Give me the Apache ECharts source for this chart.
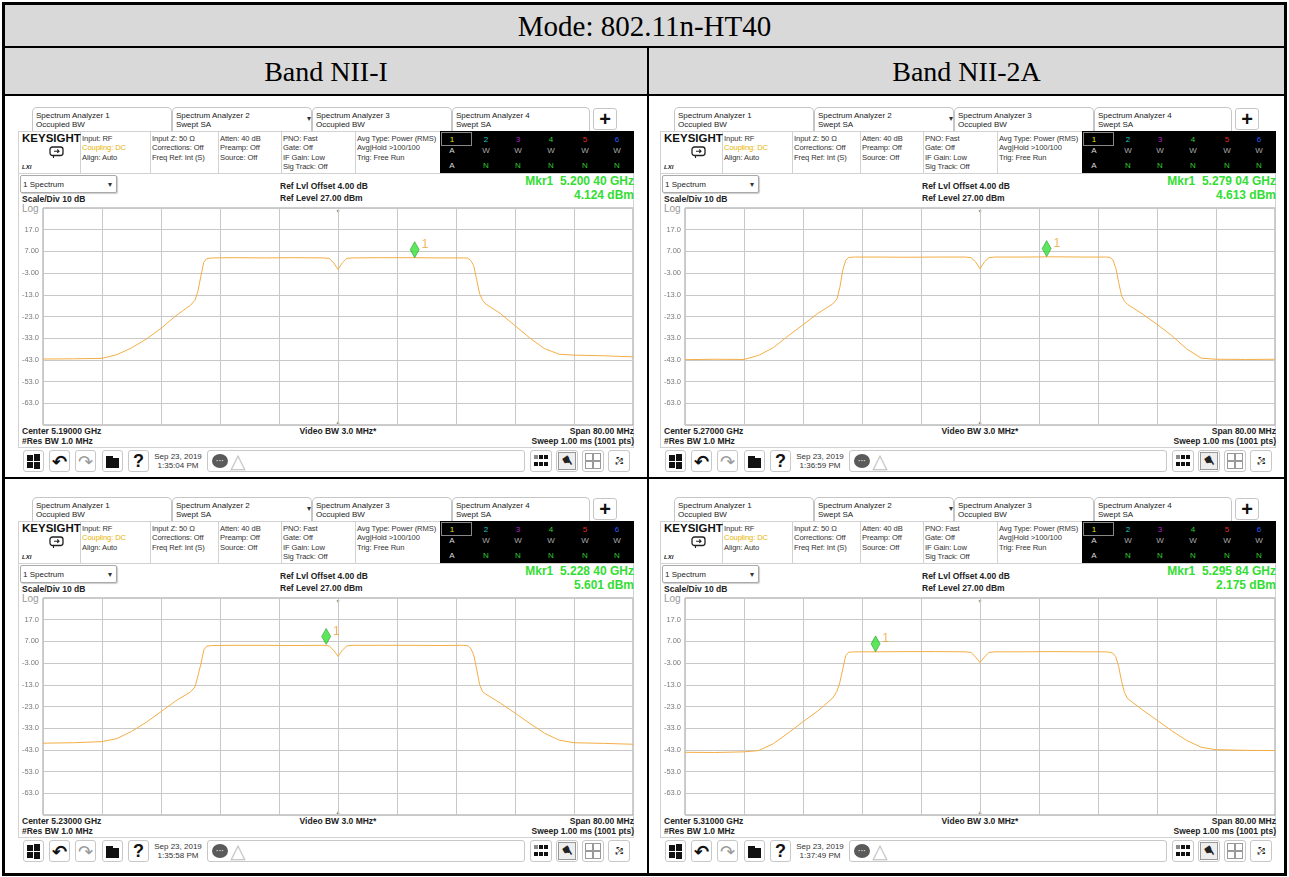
<!DOCTYPE html>
<html><head><meta charset="utf-8">
<script src="https://cdn.jsdelivr.net/npm/echarts@6/dist/echarts.min.js"></script>
<style>
html,body{margin:0;padding:0;background:#fff;}
#root{position:relative;width:1289px;height:877px;overflow:hidden;background:#fff;}
#chrome{position:absolute;left:0;top:0;width:1289px;height:877px;z-index:1;}
#chart{position:absolute;left:0;top:0;width:1289px;height:877px;z-index:2;}
.p{position:absolute;white-space:nowrap;font-family:'Liberation Sans',Arial,'DejaVu Sans',sans-serif;color:#222;}
.b{position:absolute;box-sizing:border-box;}
.hdr{position:absolute;white-space:nowrap;font-family:'Liberation Serif','Times New Roman',serif;font-size:28px;color:#000;text-align:center;}
</style></head>
<body><div id="root"><div id="chrome"></div><div id="chart"></div></div>
<script>
// ---------------- data ----------------
const freqOffsetMHz = [-40,-36,-32,-30,-28,-26,-24,-22,-20,-19.4,-19,-18.6,-18.2,-17.8,-17,-14,-10,-6,-2,-1.2,-0.6,0,0.6,1.2,2,6,10,14,17,17.6,18,18.4,18.8,19.2,19.6,20,22,24,26,28,30,32,36,40];
const levelsNII1_A = [-42.6,-42.5,-42.3,-40.6,-37.5,-33.4,-28.5,-22.7,-17.8,-15.5,-11.5,-4.5,2.0,3.7,4.0,4.1,4.0,4.1,4.0,3.8,1.8,-1.3,1.8,3.8,4.0,4.1,4.1,4.0,4.0,3.9,2.8,0.5,-6.0,-12.5,-15.5,-17.2,-21.6,-27.2,-32.9,-37.8,-40.4,-40.8,-41.1,-41.6];
const levelsNII2A_A = [-42.9,-42.7,-42.8,-40.9,-37.3,-31.9,-26.8,-21.6,-17.3,-15.0,-9.5,-1.5,3.0,4.2,4.4,4.4,4.3,4.4,4.4,4.1,2.2,-1.0,2.2,4.1,4.4,4.4,4.5,4.4,4.4,4.3,3.2,-0.5,-7.2,-13.5,-16.0,-17.4,-21.8,-26.6,-31.8,-37.9,-42.2,-42.7,-42.8,-42.7];
const levelsNII1_B = [-39.9,-39.7,-39.2,-37.8,-34.5,-30.3,-25.4,-20.4,-16.3,-14.0,-9.0,-3.5,3.0,4.8,5.1,5.2,5.2,5.1,5.2,4.9,3.0,0.1,3.0,4.9,5.2,5.2,5.2,5.1,5.2,5.0,3.8,0.8,-5.7,-12.9,-16.2,-17.2,-21.4,-26.0,-30.8,-35.3,-38.5,-39.7,-40.0,-40.4];
const levelsNII2A_B = [-44.1,-44.2,-43.9,-43.3,-40.1,-35.2,-30.0,-25.1,-19.2,-16.0,-11.9,-5.6,0.5,2.0,2.2,2.2,2.3,2.3,2.2,1.9,-0.2,-2.8,-0.2,1.9,2.2,2.2,2.3,2.2,2.2,2.0,1.6,0.0,-4.5,-11.5,-16.6,-19.3,-24.5,-29.3,-34.2,-38.6,-41.8,-42.9,-43.2,-43.3];
const panelLevels = [levelsNII1_A, levelsNII2A_A, levelsNII1_B, levelsNII2A_B];
const panelCenterGHz = [5.19, 5.27, 5.23, 5.31];
const markerFreqGHz = [5.20040, 5.27904, 5.22840, 5.29584];
const markerLevelDBm = [4.124, 4.613, 5.601, 2.175];
const sweepTimes = ['1:35:04 PM', '1:36:59 PM', '1:35:58 PM', '1:37:49 PM'];
const sweepDate = 'Sep 23, 2019';
const yTickLabels = ['17.0','7.00','-3.00','-13.0','-23.0','-33.0','-43.0','-53.0','-63.0'];
const refLevel = 27, scaleDiv = 10, spanMHz = 80;
const modeTitle = 'Mode: 802.11n-HT40';
const bandTitles = ['Band NII-I', 'Band NII-2A'];

// ---------------- layout ----------------
const W = 1289;
const panels = [{ox:0, oy:0}, {ox:642, oy:0}, {ox:0, oy:390}, {ox:642, oy:390}];
const C = document.getElementById('chrome');
function add(h){ C.insertAdjacentHTML('beforeend', h); }
function txt(x, cy, s, o){
  o = o || {};
  const fs = o.fs || 8, h = Math.ceil(fs * 1.35);
  let pos;
  if (o.al === 'r') pos = 'right:' + (W - x) + 'px;';
  else if (o.al === 'c') pos = 'left:' + (x - 150) + 'px;width:300px;text-align:center;';
  else pos = 'left:' + x + 'px;';
  add('<div class="p" style="' + pos + 'top:' + (cy - h / 2).toFixed(1) + 'px;height:' + h + 'px;line-height:' + h + 'px;font-size:' + fs + 'px;font-weight:' + (o.b ? 'bold' : 'normal') + ';color:' + (o.c || '#222') + ';' + (o.st || '') + '">' + s + '</div>');
}
function box(x, y, w, h, st){ add('<div class="b" style="left:' + x + 'px;top:' + y + 'px;width:' + w + 'px;height:' + h + 'px;' + st + '"></div>'); }

// table
box(5, 5, 1279, 41, 'background:#d9d9d9');
box(5, 48, 1279, 46, 'background:#d9d9d9');
box(2, 2, 1285, 874, 'border:3px solid #000');
box(5, 46, 1279, 2, 'background:#000');
box(5, 94, 1279, 2, 'background:#000');
box(647, 48, 2, 826, 'background:#000');
box(5, 477, 1279, 2, 'background:#000');
add('<div class="hdr" style="left:0;width:1289px;top:8px;line-height:36px;font-size:29px;">' + modeTitle + '</div>');
add('<div class="hdr" style="left:5px;width:642px;top:54px;line-height:36px;">' + bandTitles[0] + '</div>');
add('<div class="hdr" style="left:649px;width:635px;top:54px;line-height:36px;">' + bandTitles[1] + '</div>');

function fmtGHz(v){ const s = v.toFixed(5); return s.slice(0, 5) + ' ' + s.slice(5); }

function drawPanel(i){
  const ox = panels[i].ox, oy = panels[i].oy;
  // tabs
  const tabX = [32, 172, 312, 452], tabW = [140, 140, 140, 138];
  const tabN = ['Spectrum Analyzer 1', 'Spectrum Analyzer 2', 'Spectrum Analyzer 3', 'Spectrum Analyzer 4'];
  const tabM = ['Occupied BW', 'Swept SA', 'Occupied BW', 'Swept SA'];
  for (let k = 0; k < 4; k++) {
    box(ox + tabX[k], oy + 107, tabW[k], 24, 'border:1px solid #c6c6c6;border-bottom:none;border-radius:5px 5px 0 0;background:#fff');
    txt(ox + tabX[k] + 4, oy + 115, tabN[k]);
    txt(ox + tabX[k] + 4, oy + 124, tabM[k]);
  }
  txt(ox + 307, oy + 118, '▾', {fs: 8, c: '#333'});
  box(ox + 593, oy + 108, 24, 22, 'border:1px solid #c6c6c6;border-radius:3px');
  txt(ox + 605, oy + 119, '+', {al: 'c', fs: 20, b: true, c: '#111'});
  // info area
  box(ox + 18, oy + 131, 616, 317, 'border:1px solid #d2d2d2');
  [80, 150, 218, 281, 355].forEach(x => box(ox + x, oy + 131, 1, 42, 'background:#d2d2d2'));
  box(ox + 18, oy + 173, 616, 1, 'background:#d2d2d2');
  txt(ox + 22, oy + 138, 'KEYSIGHT', {fs: 11.5, b: true, c: '#111'});
  add('<svg class="b" style="left:' + (ox + 49) + 'px;top:' + (oy + 146) + 'px" width="15" height="13"><rect x="1" y="1" width="13" height="8.5" rx="2.5" fill="none" stroke="#222" stroke-width="1.3"/><path d="M5 5.2 L10 5.2 M8.3 3.5 L10 5.2 L8.3 6.9 M4.5 9.5 L4.5 12" stroke="#222" fill="none" stroke-width="1.1"/></svg>');
  txt(ox + 22, oy + 167, 'LXI', {fs: 6, b: true, st: 'font-style:italic;'});
  const cols = [[82, ['Input: RF', 'Coupling: DC', 'Align: Auto']],
                [152, ['Input Z: 50 Ω', 'Corrections: Off', 'Freq Ref: Int (S)']],
                [220, ['Atten: 40 dB', 'Preamp: Off', 'Source: Off']],
                [283, ['PNO: Fast', 'Gate: Off', 'IF Gain: Low', 'Sig Track: Off']],
                [357, ['Avg Type: Power (RMS)', 'Avg|Hold >100/100', 'Trig: Free Run']]];
  const lineY = [138, 147.5, 157, 166.5];
  cols.forEach(c => c[1].forEach((s, j) => txt(ox + c[0], oy + lineY[j], s, {fs: 7.6, c: s === 'Coupling: DC' ? '#e8b400' : '#333', st: 'letter-spacing:-0.1px;'})));
  // trace table
  box(ox + 440, oy + 131, 194, 42, 'background:#000');
  box(ox + 441, oy + 132, 31, 14, 'border:1px solid #888');
  const tx = [452, 486, 518, 551, 585, 617];
  const tc = ['#e6e600', '#22c4c4', '#b524c4', '#33d033', '#e02828', '#2a5cff'];
  tx.forEach((x, k) => {
    txt(ox + x, oy + 139, String(k + 1), {al: 'c', fs: 8, c: tc[k]});
    txt(ox + x, oy + 150, k === 0 ? 'A' : 'W', {al: 'c', fs: 8, c: k === 0 ? '#ddd' : '#aaa'});
    txt(ox + x, oy + 165, k === 0 ? 'A' : 'N', {al: 'c', fs: 8, c: k === 0 ? '#ddd' : '#33c833'});
  });
  // chart header
  box(ox + 20, oy + 175, 97, 18, 'border:1px solid #aaa;border-radius:2px;box-shadow:1px 1px 1px #ccc;background:#fff');
  txt(ox + 23, oy + 184, '1 Spectrum', {fs: 8});
  txt(ox + 108, oy + 184, '▾', {fs: 8, c: '#333'});
  txt(ox + 22, oy + 199, 'Scale/Div 10 dB', {b: true, fs: 8.5});
  txt(ox + 22, oy + 209, 'Log', {fs: 10, c: '#9a9a9a'});
  txt(ox + 280, oy + 186, 'Ref Lvl Offset 4.00 dB', {b: true, fs: 8.5});
  txt(ox + 280, oy + 198, 'Ref Level ' + refLevel.toFixed(2) + ' dBm', {b: true, fs: 8.5});
  txt(ox + 634, oy + 181, 'Mkr1&nbsp;&nbsp;' + fmtGHz(markerFreqGHz[i]) + ' GHz', {b: true, fs: 12, c: '#33dd33', al: 'r'});
  txt(ox + 634, oy + 195, markerLevelDBm[i].toFixed(3) + ' dBm', {b: true, fs: 12, c: '#33dd33', al: 'r'});
  txt(ox + 338, oy + 211.5, '▼', {fs: 5, c: '#888', al: 'c'});
  txt(ox + 338, oy + 422, '▲', {fs: 5, c: '#888', al: 'c'});
  // bottom annotations
  txt(ox + 22, oy + 431, 'Center ' + panelCenterGHz[i].toFixed(5) + ' GHz', {b: true, fs: 8.5});
  txt(ox + 22, oy + 440.5, '#Res BW 1.0 MHz', {b: true, fs: 8.5});
  txt(ox + 338, oy + 431, 'Video BW 3.0 MHz*', {b: true, fs: 8.5, al: 'c'});
  txt(ox + 634, oy + 431, 'Span ' + spanMHz.toFixed(2) + ' MHz', {b: true, fs: 8.5, al: 'r'});
  txt(ox + 634, oy + 440.5, 'Sweep 1.00 ms (1001 pts)', {b: true, fs: 8.5, al: 'r'});
  // toolbar
  const bst = 'border:1px solid #c8c8c8;border-radius:3px;background:#fff';
  [23, 49, 75, 102, 128].forEach(x => box(ox + x, oy + 450, 21, 22, bst));
  // windows
  box(ox + 27, oy + 455, 6, 6, 'background:#111'); box(ox + 34, oy + 454, 6, 7, 'background:#111');
  box(ox + 27, oy + 462, 6, 6, 'background:#111'); box(ox + 34, oy + 462, 6, 7, 'background:#111');
  txt(ox + 59.5, oy + 461, '↶', {fs: 18, b: true, al: 'c', c: '#111', st: "font-family:'DejaVu Sans';"});
  txt(ox + 85.5, oy + 461, '↷', {fs: 18, al: 'c', c: '#999', st: "font-family:'DejaVu Sans';"});
  box(ox + 106, oy + 456, 7, 3, 'background:#111'); box(ox + 106, oy + 458, 13, 10, 'background:#111');
  txt(ox + 138.5, oy + 461, '?', {fs: 18, b: true, al: 'c', c: '#111'});
  txt(ox + 178, oy + 456, sweepDate, {fs: 8, al: 'c', c: '#333'});
  txt(ox + 178, oy + 465.5, sweepTimes[i], {fs: 8, al: 'c', c: '#333'});
  box(ox + 207, oy + 450, 318, 22, bst);
  box(ox + 212, oy + 454, 16, 14, 'background:#5a5a5a;border-radius:50%');
  txt(ox + 220, oy + 460.5, '···', {fs: 8, b: true, c: '#ddd', al: 'c'});
  txt(ox + 238, oy + 461, '△', {fs: 20, c: '#c0c0c0', al: 'c', st: "font-family:'DejaVu Sans';"});
  [530, 556, 582, 608].forEach(x => box(ox + x, oy + 450, 22, 22, bst));
  [0, 1, 2].forEach(c => [0, 1].forEach(r => box(ox + 534 + c * 5, oy + 455 + r * 7, 3.5, 3.5, 'background:' + (r === 0 && c === 0 ? '#888' : '#111'))));
  box(ox + 558, oy + 452, 18, 18, 'background:#eee;border:1px solid #999');
  txt(ox + 567, oy + 461, '☛', {fs: 14, al: 'c', c: '#222', st: "font-family:'DejaVu Sans';transform:rotate(60deg);"});
  [0, 1].forEach(c => [0, 1].forEach(r => box(ox + 585 + c * 8, oy + 453 + r * 8, 8, 8, 'border:1px solid #999')));
  txt(ox + 619, oy + 461, '⤡', {fs: 9, al: 'c', c: '#222', st: "font-family:'DejaVu Sans';"});
  txt(ox + 619, oy + 461, '⤢', {fs: 9, al: 'c', c: '#222', st: "font-family:'DejaVu Sans';"});
}
panels.forEach((p, i) => drawPanel(i));

// ---------------- chart ----------------
const chart = echarts.init(document.getElementById('chart'), null, {renderer: 'canvas'});
const option = {
  animation: false,
  backgroundColor: 'transparent',
  grid: panels.map(p => ({left: 43 + p.ox, top: 208 + p.oy, width: 590, height: 217, show: true, borderColor: '#9a9a9a', borderWidth: 1, backgroundColor: 'transparent', containLabel: false})),
  xAxis: panels.map((p, i) => ({
    type: 'value', gridIndex: i, min: -spanMHz / 2, max: spanMHz / 2, interval: spanMHz / 10,
    axisLine: {show: false}, axisTick: {show: false}, axisLabel: {show: false},
    splitLine: {show: true, lineStyle: {color: '#c8c8c8', width: 1}}
  })),
  yAxis: panels.map((p, i) => ({
    type: 'value', gridIndex: i, min: refLevel - 10 * scaleDiv, max: refLevel, interval: scaleDiv,
    axisLine: {show: false}, axisTick: {show: false},
    axisLabel: {show: true, fontSize: 7.5, color: '#7a7a7a', margin: 4, fontFamily: 'Liberation Sans',
      formatter: v => { const k = Math.round((17 - v) / 10); return (k >= 0 && k < yTickLabels.length) ? yTickLabels[k] : ''; }},
    splitLine: {show: true, lineStyle: {color: '#c8c8c8', width: 1}}
  })),
  series: []
};
panels.forEach((p, i) => {
  option.series.push({
    type: 'line', xAxisIndex: i, yAxisIndex: i, symbol: 'none', showSymbol: false, z: 3,
    lineStyle: {color: '#f4ad45', width: 1},
    data: freqOffsetMHz.map((f, k) => [f, panelLevels[i][k]])
  });
  option.series.push({
    type: 'scatter', xAxisIndex: i, yAxisIndex: i, z: 5,
    symbol: 'diamond', symbolSize: [9, 16], symbolOffset: [0, -8],
    itemStyle: {color: '#36e036', borderColor: '#148a14', borderWidth: 0.6},
    label: {show: true, formatter: '1', position: 'right', distance: 2, offset: [0, -5], fontSize: 12, color: '#f0a030', fontFamily: 'Liberation Sans'},
    data: [[(markerFreqGHz[i] - panelCenterGHz[i]) * 1000, markerLevelDBm[i]]]
  });
});
chart.setOption(option);
</script>
</body></html>
